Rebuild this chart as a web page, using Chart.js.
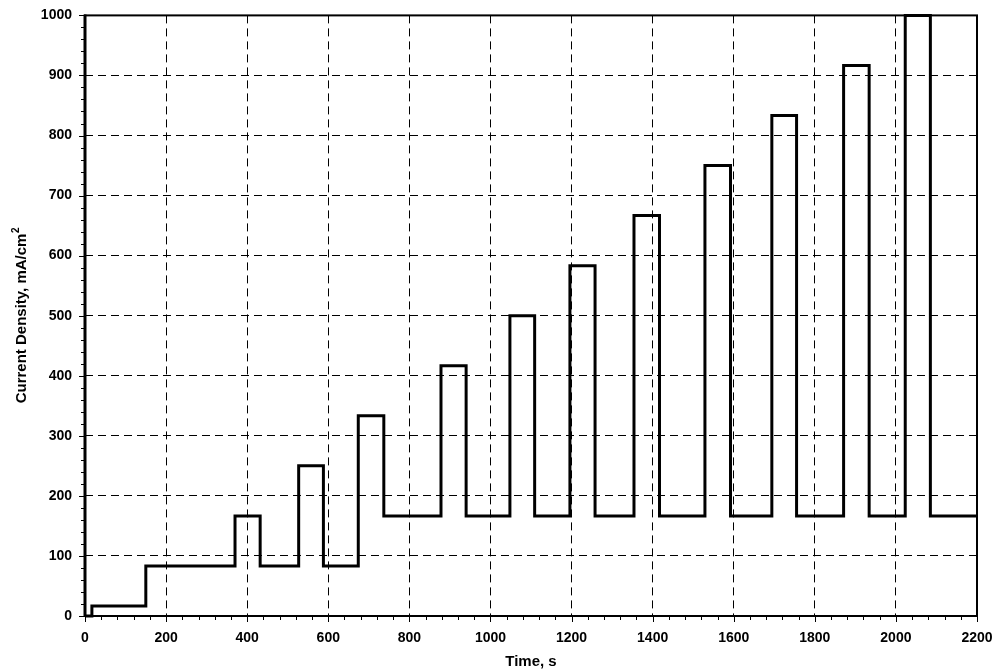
<!DOCTYPE html>
<html>
<head>
<meta charset="utf-8">
<script src="https://cdn.jsdelivr.net/npm/chart.js@4"></script>
<style>
  html, body { margin: 0; padding: 0; background: #fff; }
  canvas { display: block; }
</style>
</head>
<body>
<canvas id="chart" width="995" height="671"></canvas>
<script>
// step changes: time (s) where each level starts
const stepTimes = [0, 17, 150, 370, 432, 527, 588, 674, 737, 878, 940, 1048, 1109,
  1196, 1258, 1354, 1417, 1529, 1592, 1694, 1755, 1871, 1934, 2023, 2085, 2200];
// current density level (mA/cm2) held from that time on
const levels = [0, 16.7, 83.3, 166.7, 83.3, 250, 83.3, 333.3, 166.7, 416.7, 166.7, 500, 166.7,
  583.3, 166.7, 666.7, 166.7, 750, 166.7, 833.3, 166.7, 916.7, 166.7, 1000, 166.7, 166.7];

const xTicks = [0, 200, 400, 600, 800, 1000, 1200, 1400, 1600, 1800, 2000, 2200];
const yTicks = [0, 100, 200, 300, 400, 500, 600, 700, 800, 900, 1000];

const FONT = "'Liberation Sans', Arial, sans-serif";
const points = stepTimes.map((t, i) => ({ x: t, y: levels[i] }));

// minor/major tick marks outside the axes, frame box, y title with superscript
const frame = {
  id: "frame",
  afterDraw(chart) {
    const { ctx, chartArea: a, scales: { x, y } } = chart;
    ctx.save();
    ctx.strokeStyle = "#000";
    ctx.lineWidth = 1;
    ctx.beginPath();
    for (let v = 0; v <= 2200; v += 40) {
      const px = Math.round(x.getPixelForValue(v)) + 0.5;
      ctx.moveTo(px, a.bottom);
      ctx.lineTo(px, a.bottom + (v % 200 === 0 ? 6 : 4));
    }
    for (let v = 0; v <= 1000; v += 20) {
      const py = Math.round(y.getPixelForValue(v)) + 0.5;
      ctx.moveTo(a.left, py);
      ctx.lineTo(a.left - (v % 100 === 0 ? 6 : 4), py);
    }
    ctx.stroke();
    ctx.lineWidth = 2;
    ctx.strokeRect(a.left, a.top, a.right - a.left, a.bottom - a.top);
    ctx.lineWidth = 3;
    ctx.beginPath();
    ctx.moveTo(a.left, a.top - 1);
    ctx.lineTo(a.left, a.bottom + 1);
    ctx.stroke();

    // y axis title
    const main = "Current Density, mA/cm";
    ctx.fillStyle = "#000";
    ctx.translate(22, (a.top + a.bottom) / 2);
    ctx.rotate(-Math.PI / 2);
    ctx.font = "bold 15px " + FONT;
    const w1 = ctx.measureText(main).width;
    ctx.font = "bold 10px " + FONT;
    const w2 = ctx.measureText("2").width;
    const start = -(w1 + w2) / 2;
    ctx.textBaseline = "middle";
    ctx.textAlign = "left";
    ctx.font = "bold 15px " + FONT;
    ctx.fillText(main, start, 0);
    ctx.font = "bold 10px " + FONT;
    ctx.fillText("2", start + w1 + 0.5, -6);
    ctx.restore();
  }
};

new Chart(document.getElementById("chart").getContext("2d"), {
  type: "line",
  data: {
    datasets: [{
      data: points,
      stepped: "before",
      borderColor: "#000",
      borderWidth: 3,
      pointRadius: 0,
      fill: false,
      clip: 4
    }]
  },
  options: {
    responsive: false,
    animation: false,
    layout: { padding: { top: 15, right: 18, left: 0, bottom: 0 } },
    plugins: { legend: { display: false }, tooltip: { enabled: false } },
    scales: {
      x: {
        type: "linear",
        min: 0, max: 2200,
        afterBuildTicks: s => { s.ticks = xTicks.map(v => ({ value: v })); },
        afterFit: s => { s.height = 55; s.paddingRight = 0; },
        grid: { color: "#000", lineWidth: 1, tickLength: 6, tickColor: "transparent" },
        border: { display: false, dash: [8, 5] },
        ticks: { color: "#000", font: { family: FONT, size: 14, weight: "bold" }, padding: 8, maxRotation: 0, callback: v => String(v) },
        title: { display: true, text: "Time, s", color: "#000", font: { family: FONT, size: 15, weight: "bold" }, padding: { top: 2, bottom: 0 } }
      },
      y: {
        min: 0, max: 1000,
        afterBuildTicks: s => { s.ticks = yTicks.map(v => ({ value: v })); },
        afterFit: s => { s.width = 85; },
        grid: { color: "#000", lineWidth: 1, tickLength: 6, tickColor: "transparent" },
        border: { display: false, dash: [8, 5] },
        ticks: { color: "#000", font: { family: FONT, size: 14, weight: "bold" }, padding: 7, callback: v => String(v) },
        title: { display: false }
      }
    }
  },
  plugins: [frame]
});
</script>
</body>
</html>
